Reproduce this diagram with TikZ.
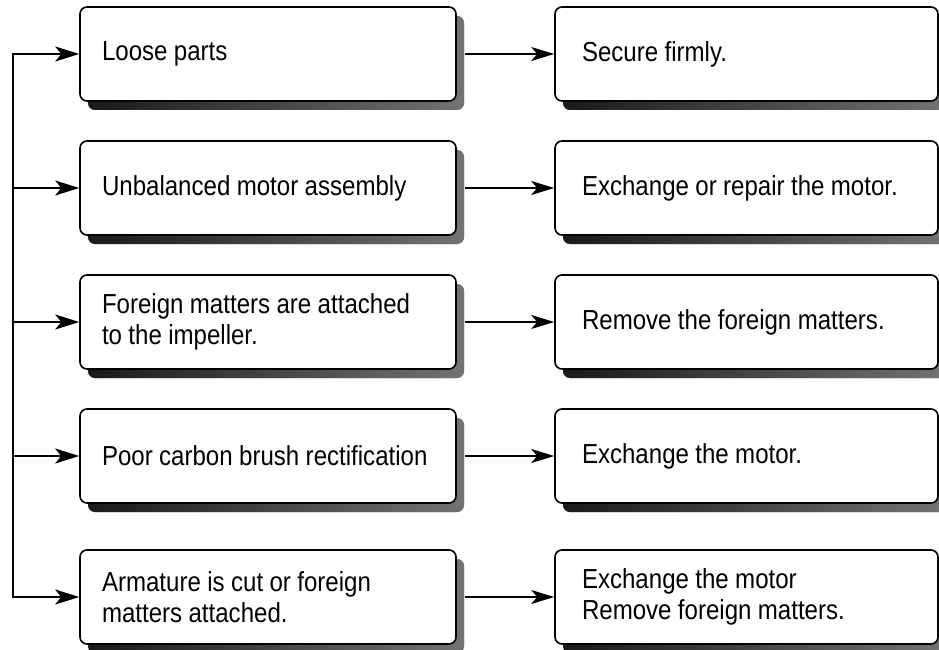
\documentclass[tikz,border=0pt]{standalone}
\usepackage{fontspec}
\setmainfont{Liberation Sans}[FakeStretch=0.875]
\usetikzlibrary{shadows,arrows.meta}
\newcommand\myboxfont{\fontsize{27.5}{31}\selectfont\spaceskip=6.4pt plus 1pt minus 1pt\relax}
\begin{document}
\begin{tikzpicture}[x=1pt,y=-1pt,
  box/.style={draw=black, line width=1.6pt, rounded corners=7pt, fill=white,
    minimum height=94pt, align=left, anchor=center,
    execute at begin node=\myboxfont,
    drop shadow={shadow xshift=8pt, shadow yshift=-9pt, opacity=1,
      left color=black!90, right color=black!55, draw=none}},
  lbox/.style={box, minimum width=376pt, inner xsep=22pt, text width=332pt},
  rbox/.style={box, minimum width=383pt, inner xsep=27pt, text width=329pt},
  bus/.style={line width=2pt, line cap=rect},
  larr/.style={line width=2pt, -{Stealth[length=24pt, width=15pt, inset=6pt]}},
  marr/.style={line width=1.5pt, -{Stealth[length=23pt, width=14pt, inset=6pt]}}
]
\useasboundingbox (0,0) rectangle (939,650);
\node[lbox] (L1) at (268,54) {Loose parts};
\node[rbox] (R1) at (746.5,54) {Secure firmly.};
\node[lbox] (L2) at (268,188) {Unbalanced motor assembly};
\node[rbox] (R2) at (746.5,188) {Exchange or repair the motor.};
\node[lbox] (L3) at (268,322) {Foreign matters are attached\\to the impeller.};
\node[rbox] (R3) at (746.5,322) {Remove the foreign matters.};
\node[lbox] (L4) at (268,456) {Poor carbon brush rectification};
\node[rbox] (R4) at (746.5,456) {Exchange the motor.};
\node[lbox] (L5) at (268,597) {Armature is cut or foreign\\matters attached.};
\node[rbox] (R5) at (746.5,597) {Exchange the motor\\Remove foreign matters.};
\coordinate (bx) at (13,0);
\coordinate (b1) at (L1.west -| bx);
\coordinate (b2) at (L2.west -| bx);
\coordinate (b3) at (L3.west -| bx);
\coordinate (b4) at (L4.west -| bx);
\coordinate (b5) at (L5.west -| bx);
\draw[bus] (b1) -- (b5);
\foreach \i in {1,...,5}{
  \draw[larr] (b\i) -- (L\i.west);
  \draw[marr] ([xshift=8pt]L\i.east) -- (R\i.west);
}
\end{tikzpicture}
\end{document}
